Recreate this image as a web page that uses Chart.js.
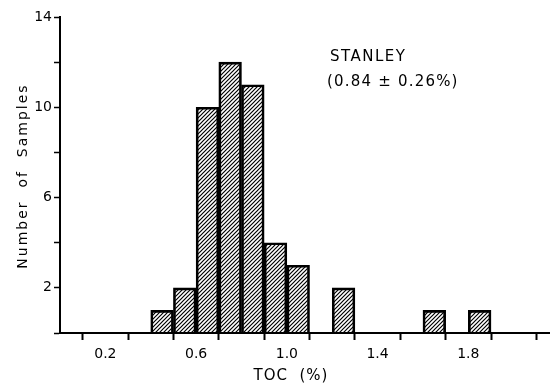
<!DOCTYPE html>
<html>
<head>
<meta charset="utf-8">
<script src="https://cdn.jsdelivr.net/npm/chart.js@4"></script>
<style>
  html, body { margin: 0; padding: 0; background: #fff; }
  #wrap { width: 550px; height: 383px; position: relative; }
</style>
</head>
<body>
<div id="wrap"><canvas id="myChart"></canvas></div>
<script>
// data (bin width 0.1 % TOC)
const binStarts = [0.4, 0.5, 0.6, 0.7, 0.8, 0.9, 1.0, 1.2, 1.6, 1.8];
const counts = [1, 2, 10, 12, 11, 4, 3, 2, 1, 1];
const binWidth = 0.1;
const xLabelTicks = [0.2, 0.6, 1.0, 1.4, 1.8];
const yLabelTicks = [2, 6, 10, 14];
const seriesName = "STANLEY";
const seriesNote = "(0.84 \u00b1 0.26%)";

// diagonal hatch fill
function hatch() {
  const c = document.createElement("canvas");
  c.width = 4;
  c.height = 4;
  const g = c.getContext("2d");
  g.strokeStyle = "#000";
  g.lineWidth = 1.2;
  g.beginPath();
  g.moveTo(-1, 5); g.lineTo(5, -1);
  g.moveTo(-1, 1); g.lineTo(1, -1);
  g.moveTo(3, 5); g.lineTo(5, 3);
  g.stroke();
  return g.createPattern(c, "repeat");
}

// texts drawn with letter spacing like the original lettering
const textPlugin = {
  id: "texts",
  afterDraw(chart) {
    const ctx = chart.ctx;
    ctx.save();
    ctx.fillStyle = "#000";
    ctx.textBaseline = "middle";
    ctx.letterSpacing = "1.5px";
    ctx.font = "15px 'DejaVu Sans'";
    ctx.textAlign = "left";
    ctx.fillText(seriesName, 330, 57);
    ctx.letterSpacing = "1.2px";
    ctx.fillText(seriesNote, 327, 82);

    ctx.letterSpacing = "1px";
    ctx.textAlign = "center";
    ctx.fillText("TOC  (%)", 291, 376);

    ctx.translate(23, 176);
    ctx.rotate(-Math.PI / 2);
    ctx.font = "14px 'DejaVu Sans'";
    ctx.letterSpacing = "2px";
    ctx.fillText("Number  of  Samples", 0, 0);
    ctx.restore();
  }
};

document.addEventListener("DOMContentLoaded", function () {
  const ctx = document.getElementById("myChart").getContext("2d");

  const points = binStarts.map((s, i) => ({ x: s + binWidth / 2, y: counts[i] }));

  new Chart(ctx, {
    type: "bar",
    data: {
      datasets: [
        {
          label: seriesName,
          data: points,
          backgroundColor: hatch(),
          borderColor: "#000",
          borderWidth: 2,
          barPercentage: 1,
          categoryPercentage: 1,
        },
      ],
    },
    options: {
      responsive: true,
      maintainAspectRatio: false,
      animation: false,
      layout: { padding: { top: 17, right: 0, left: 0, bottom: 0 } },
      plugins: {
        legend: { display: false },
        tooltip: { enabled: false },
      },
      scales: {
        x: {
          type: "linear",
          offset: false,
          min: 0,
          max: 2.16,
          border: { display: true, color: "#000", width: 2 },
          grid: {
            drawOnChartArea: false,
            drawTicks: true,
            tickLength: 7,
            tickWidth: 2,
            tickColor: "#000",
          },
          ticks: {
            stepSize: 0.2,
            includeBounds: false,
            autoSkip: false,
            maxRotation: 0,
            padding: 6,
            color: "#000",
            font: { family: "DejaVu Sans", size: 14 },
            callback: function (v) {
              const hit = xLabelTicks.find(t => Math.abs(t - v) < 1e-6);
              return hit === undefined ? "" : hit.toFixed(1);
            },
          },
          afterFit: function (scale) { scale.height = 50; },
        },
        y: {
          min: 0,
          max: 14,
          border: { display: true, color: "#000", width: 2 },
          grid: {
            drawOnChartArea: false,
            drawTicks: true,
            tickLength: 6,
            tickWidth: 1.5,
            tickColor: "#000",
          },
          ticks: {
            stepSize: 2,
            padding: 2,
            color: "#000",
            font: { family: "DejaVu Sans", size: 14 },
            callback: function (v) {
              return yLabelTicks.includes(v) ? String(v) : "";
            },
          },
          afterFit: function (scale) { scale.width = 60; },
        },
      },
    },
    plugins: [textPlugin],
  });
});
</script>
</body>
</html>
